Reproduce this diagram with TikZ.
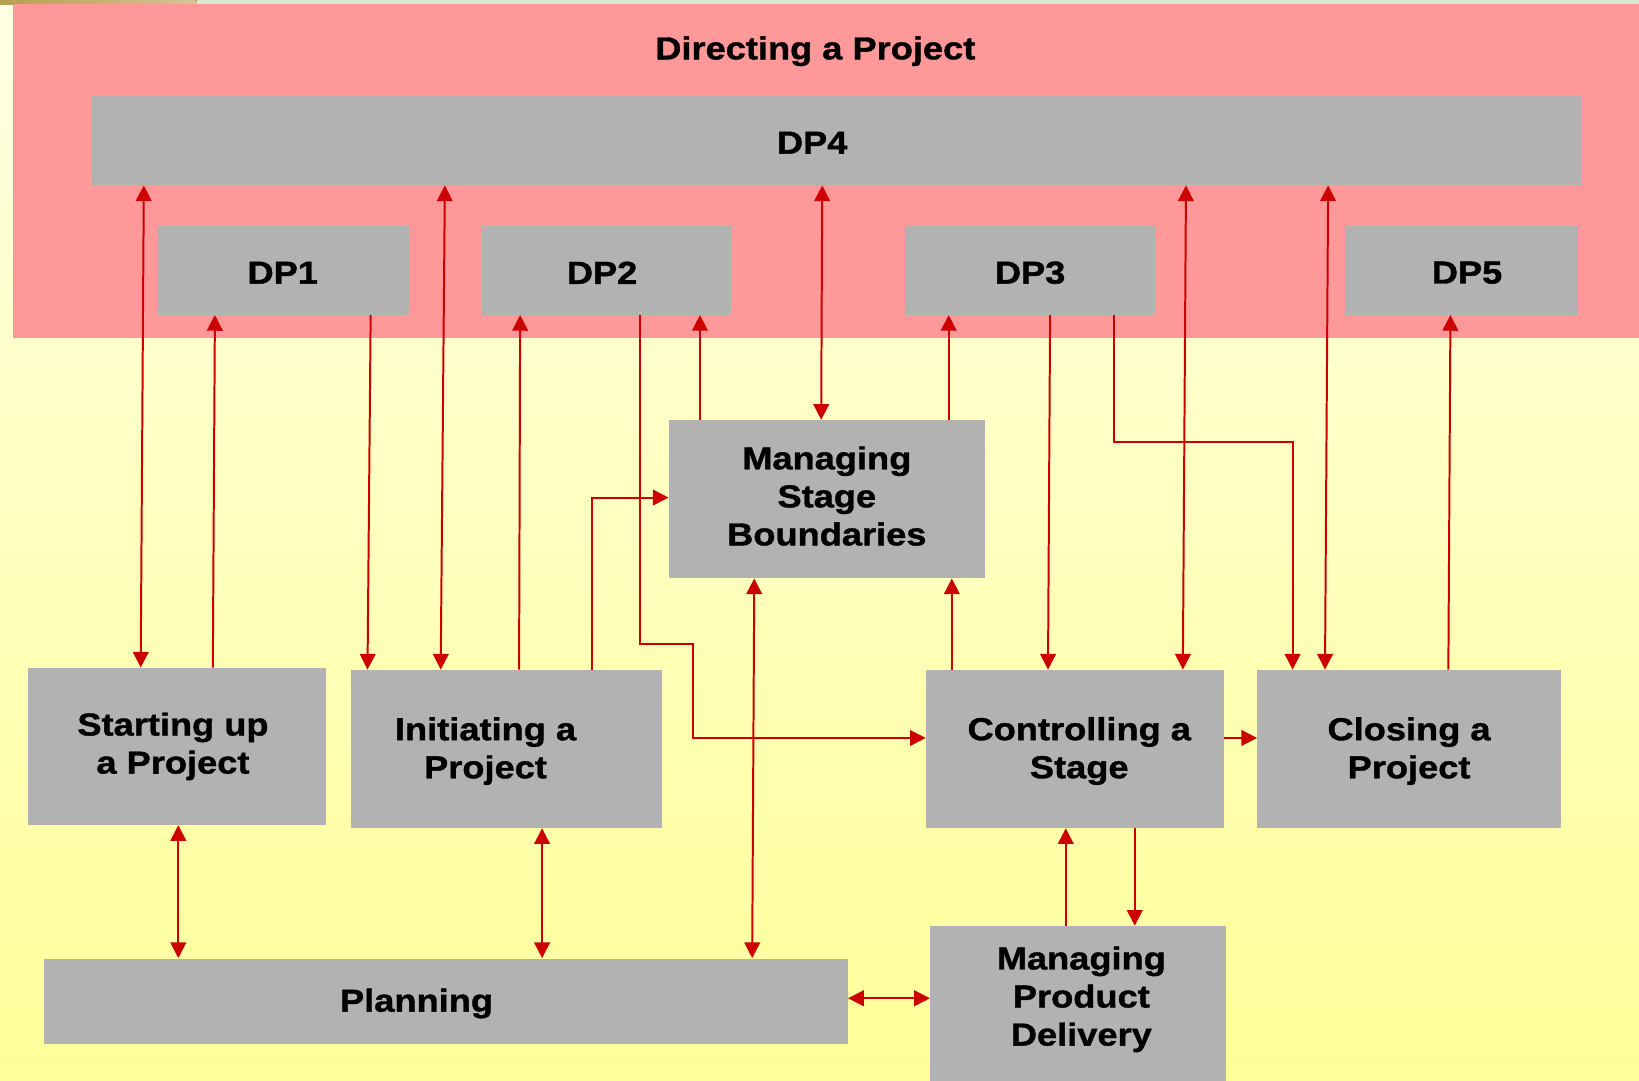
\documentclass[tikz,border=0pt]{standalone}
\usepackage{fontspec}
\setmainfont{Liberation Sans}[FakeStretch=1.14, BoldFeatures={FakeBold=1.2}]
\usetikzlibrary{arrows.meta,calc}
\definecolor{bandred}{HTML}{FF9999}
\definecolor{boxgrey}{HTML}{B2B2B2}
\definecolor{arrred}{HTML}{CC0000}
\definecolor{bgtop}{HTML}{FFFFE4}
\definecolor{bgbot}{HTML}{FFFF99}
\definecolor{goldstrip}{HTML}{B89E50}
\definecolor{greenstrip}{HTML}{D6EBCB}
\newcommand\lblfont{\bfseries\fontsize{15.2}{18.2}\selectfont}
\begin{document}
\begin{tikzpicture}[x=0.5pt,y=-0.5pt,
  box/.style={fill=boxgrey, inner sep=0pt, font=\lblfont, align=center, text=black},
  band/.style={fill=bandred, inner sep=0pt},
  lbl/.style={font=\lblfont, align=center, text=black, inner sep=0pt},
  conn/.style={draw=arrred, line width=0.95pt},
  one/.style={conn, -{Triangle[length=7.5pt,width=7.5pt]}},
  two/.style={conn, {Triangle[length=7.5pt,width=7.5pt]}-{Triangle[length=7.5pt,width=7.5pt]}}]
\useasboundingbox (0,0) rectangle (1568,1034);
\shade[top color=bgtop, bottom color=bgbot] (0,0) rectangle (1568,1034);
\fill[greenstrip] (0,0) rectangle (1568,4);
\fill[left color=goldstrip, right color=goldstrip!60!white] (0,0) rectangle (188,4);

% Directing a Project band
\node[band, minimum width=778pt, minimum height=159.5pt] (DPband) at (790,163.5) {};
\node[lbl] (title) at (780,49) {Directing a Project};

% DP boxes
\node[box, minimum width=712.5pt, minimum height=42.5pt,
      label={[lbl, xshift=-11.75pt, yshift=-1pt]center:DP4}] (DP4) at (800.5,134.5) {};
\node[box, minimum width=120.5pt, minimum height=42.5pt,
      label={[lbl, yshift=-1.2pt]center:DP1}] (DP1) at (270.5,258.5) {};
\node[box, minimum width=119pt, minimum height=42.5pt,
      label={[lbl, xshift=-2pt, yshift=-1.2pt]center:DP2}] (DP2) at (580,258.5) {};
\node[box, minimum width=119.5pt, minimum height=42.5pt,
      label={[lbl, yshift=-1.2pt]center:DP3}] (DP3) at (985.5,258.5) {};
\node[box, minimum width=111.5pt, minimum height=42.5pt,
      label={[lbl, xshift=2.5pt, yshift=-1.2pt]center:DP5}] (DP5) at (1398.5,258.5) {};

% process boxes
\node[box, minimum width=151pt, minimum height=75.5pt,
      label={[lbl, yshift=1.5pt]center:Managing\\Stage\\Boundaries}] (MSB) at (791,477.5) {};
\node[box, minimum width=142.5pt, minimum height=75pt,
      label={[lbl, xshift=-2pt]center:Starting up\\a Project}] (SU) at (169.5,714) {};
\node[box, minimum width=148.5pt, minimum height=75.5pt,
      label={[lbl, xshift=-10pt, yshift=-1pt]center:Initiating a\\Project}] (IP) at (484.5,716.5) {};
\node[box, minimum width=142.5pt, minimum height=75.5pt,
      label={[lbl, xshift=2pt, yshift=-1pt]center:Controlling a\\Stage}] (CS) at (1028.5,716.5) {};
\node[box, minimum width=145pt, minimum height=75.5pt,
      label={[lbl, yshift=-1pt]center:Closing a\\Project}] (CP) at (1348,716.5) {};
\node[box, minimum width=384.5pt, minimum height=41pt,
      label={[lbl, xshift=-14pt, yshift=-1pt]center:Planning}] (PL) at (426.5,958) {};
\node[box, minimum width=141.5pt, minimum height=77pt,
      label={[lbl, xshift=1.5pt, yshift=3.5pt]center:Managing\\Product\\Delivery}] (MPD) at (1031.5,963) {};

% connectors to/from directing
\draw[two] ($(SU.north west)+(108,0)$) -- ($(DP4.south west)+(50,0)$);
\draw[one] ($(SU.north west)+(177,0)$) -- ($(DP1.south west)+(56,0)$);
\draw[one] ($(DP1.south west)+(205,0)$) -- ($(IP.north west)+(16,0)$);
\draw[two] ($(IP.north west)+(86,0)$) -- ($(DP4.south west)+(338,0)$);
\draw[one] ($(IP.north west)+(161,0)$) -- ($(DP2.south west)+(37,0)$);
\draw[one] ($(DP2.south west)+(152,0)$) -- ++(0,315) -- ++(50,0) |- ($(CS.west)+(0,-10.5)$);
\draw[one] ($(IP.north west)+(231,0)$) |- ($(MSB.west)+(0,-1.5)$);
\draw[one] ($(MSB.north west)+(30,0)$) -- ($(DP2.south west)+(209,0)$);
\draw[two] ($(MSB.north west)+(146,0)$) -- ($(DP4.south west)+(699,0)$);
\draw[one] ($(MSB.north west)+(268,0)$) -- ($(DP3.south west)+(42,0)$);
\draw[one] ($(CS.north west)+(25,0)$) -- ($(MSB.south west)+(271,0)$);
\draw[two] ($(MSB.south west)+(82,0)$) -- ($(PL.north west)+(678,0)$);
\draw[one] ($(DP3.south west)+(139,0)$) -- ($(CS.north west)+(117,0)$);
\draw[one] ($(DP3.south west)+(200,0)$) -- ++(0,121) -| ($(CP.north west)+(34,0)$);
\draw[two] ($(CS.north west)+(246,0)$) -- ($(DP4.south west)+(1047,0)$);
\draw[two] ($(CP.north west)+(65,0)$) -- ($(DP4.south west)+(1183,0)$);
\draw[one] ($(CP.north west)+(183,0)$) -- ($(DP5.south west)+(101,0)$);

% lower connectors
\draw[one] ($(CS.east)+(0,-10.5)$) -- ($(CP.west)+(0,-10.5)$);
\draw[two] ($(SU.south west)+(144,0)$) -- ($(PL.north west)+(129,0)$);
\draw[two] ($(IP.south west)+(183,0)$) -- ($(PL.north west)+(477,0)$);
\draw[two] ($(PL.east)+(0,-3)$) coordinate (plmid) -- (plmid -| MPD.west);
\draw[one] ($(MPD.north west)+(130,0)$) -- ($(CS.south west)+(134,0)$);
\draw[one] ($(CS.south west)+(200,0)$) -- ($(MPD.north west)+(196,0)$);
\end{tikzpicture}
\end{document}
